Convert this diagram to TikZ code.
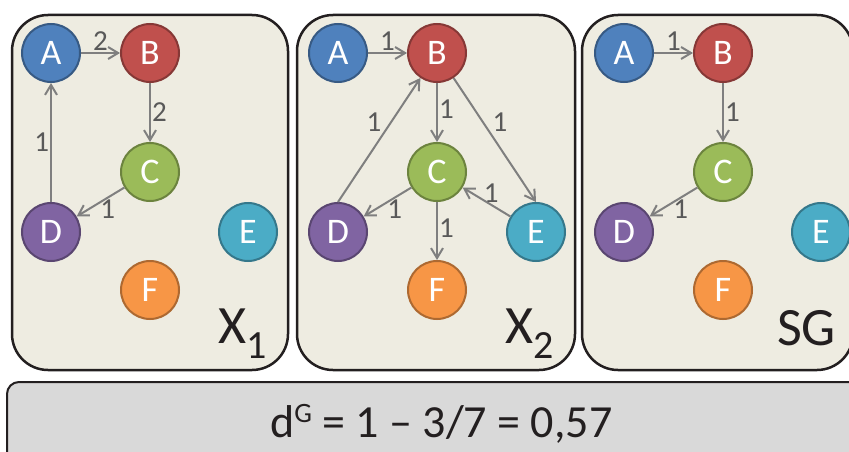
\documentclass[tikz,border=0pt]{standalone}
\usepackage{fontspec}
\setmainfont{Carlito}
\usetikzlibrary{arrows.meta}
\definecolor{colA}{HTML}{4F81BD}
\definecolor{colB}{HTML}{C0504D}
\definecolor{colC}{HTML}{9BBB59}
\definecolor{colD}{HTML}{8064A2}
\definecolor{colE}{HTML}{4BACC6}
\definecolor{colF}{HTML}{F79646}
\definecolor{panelf}{HTML}{EEECE1}
\definecolor{boxg}{HTML}{D9D9D9}
\definecolor{frame}{HTML}{231F20}
\definecolor{arrg}{HTML}{7F7F7F}
\definecolor{wtg}{HTML}{595959}

\begin{document}
\begin{tikzpicture}[x=1pt,y=-1pt,
  vtx/.style={circle,draw=#1!70!black,fill=#1,line width=2pt,minimum size=58pt,inner sep=0pt,text=white,font=\fontsize{36}{40}\selectfont},
  link/.style={draw=arrg,line width=2pt,-{Straight Barb[length=10pt,width=12pt]}},
  wt/.style={text=wtg,font=\fontsize{29}{32}\selectfont,inner sep=1pt},
  panel/.style={fill=panelf,draw=frame,line width=2.5pt,rounded corners=36pt},
  big/.style={anchor=base west,inner sep=0pt,text=frame,font=\fontsize{54}{60}\selectfont}]
\useasboundingbox (0,0) rectangle (849,452);
\clip (0,0) rectangle (849,452);
% panels
\draw[panel] (12,15) rectangle (288,370);
\draw[panel] (297,15) rectangle (575,370);
\draw[panel] (582,15) rectangle (853,370);
\draw[fill=boxg,draw=frame,line width=2pt,rounded corners=12pt] (7,382) rectangle (870,490);
% X1
\begin{scope}[shift={(51,53)},name prefix=p1-]
  \foreach \n/\x/\y/\c in {A/0/0/colA,B/99/0/colB,C/99/119/colC,D/0/179/colD,E/197/179/colE,F/99/237/colF}
    {\node[vtx=\c] (\n) at (\x,\y) {\n};}
  \draw[link] (A) -- node[wt,above] {2} (B);
  \draw[link] (B) -- node[wt,right] {2} (C);
  \draw[link] (D) -- node[wt,left] {1} (A);
  \draw[link] (C) -- node[wt,below,pos=0.35] {1} (D);
\end{scope}
% X2
\begin{scope}[shift={(338,53)},name prefix=p2-]
  \foreach \n/\x/\y/\c in {A/0/0/colA,B/99/0/colB,C/99/119/colC,D/0/179/colD,E/198/179/colE,F/99/237/colF}
    {\node[vtx=\c] (\n) at (\x,\y) {\n};}
  \draw[link] (A) -- node[wt,above] {1} (B);
  \draw[link] (B) -- node[wt,right,pos=0.45] {1} (C);
  \draw[link] (D.north) -- node[wt,above left,pos=0.55] {1} (B);
  \draw[link] (B) -- node[wt,above right,pos=0.45] {1} (E.north);
  \draw[link] (C) -- node[wt,below,pos=0.35] {1} (D);
  \draw[link] (E) -- node[wt,above,pos=0.4] {1} (C);
  \draw[link] (C) -- node[wt,right,pos=0.45] {1} (F);
\end{scope}
% SG
\begin{scope}[shift={(624,53)},name prefix=p3-]
  \foreach \n/\x/\y/\c in {A/0/0/colA,B/99/0/colB,C/99/119/colC,D/0/179/colD,E/197/179/colE,F/99/237/colF}
    {\node[vtx=\c] (\n) at (\x,\y) {\n};}
  \draw[link] (A) -- node[wt,above] {1} (B);
  \draw[link] (B) -- node[wt,right] {1} (C);
  \draw[link] (C) -- node[wt,below,pos=0.35] {1} (D);
\end{scope}
\node[big] (x1) at (218,343) {X\raisebox{-15pt}{\fontsize{40}{44}\selectfont 1}};
\node[big] (x2) at (505,343) {X\raisebox{-15pt}{\fontsize{40}{44}\selectfont 2}};
\node[big] (sg) at (777,345) {SG};
\node[anchor=base west,inner sep=0pt,text=frame,font=\fontsize{46}{50}\selectfont] (dg) at (270,437)
  {d\raisebox{15pt}{\fontsize{28}{30}\selectfont G} = 1 – 3/7 = 0,57};
\end{tikzpicture}
\end{document}
